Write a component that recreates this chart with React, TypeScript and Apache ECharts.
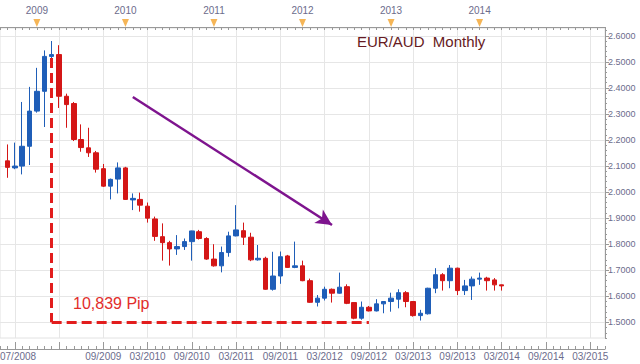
import { useEffect, useRef } from "react";
import * as echarts from "echarts";

// Monthly categories (x axis)
const months = [
  "07/2008", "08/2008", "09/2008", "10/2008", "11/2008", "12/2008",
  "01/2009", "02/2009", "03/2009", "04/2009", "05/2009", "06/2009", "07/2009", "08/2009", "09/2009", "10/2009", "11/2009", "12/2009",
  "01/2010", "02/2010", "03/2010", "04/2010", "05/2010", "06/2010", "07/2010", "08/2010", "09/2010", "10/2010", "11/2010", "12/2010",
  "01/2011", "02/2011", "03/2011", "04/2011", "05/2011", "06/2011", "07/2011", "08/2011", "09/2011", "10/2011", "11/2011", "12/2011",
  "01/2012", "02/2012", "03/2012", "04/2012", "05/2012", "06/2012", "07/2012", "08/2012", "09/2012", "10/2012", "11/2012", "12/2012",
  "01/2013", "02/2013", "03/2013", "04/2013", "05/2013", "06/2013", "07/2013", "08/2013", "09/2013", "10/2013", "11/2013", "12/2013",
  "01/2014", "02/2014", "03/2014", "04/2014", "05/2014", "06/2014", "07/2014", "08/2014", "09/2014", "10/2014", "11/2014", "12/2014",
  "01/2015", "02/2015", "03/2015", "04/2015", "05/2015",
];

const firstCandleMonth = "08/2008";

// EUR/AUD monthly OHLC, 08/2008 .. 03/2014
const opens = [
  2.120, 2.093, 2.100, 2.176, 2.311, 2.387, 2.521, 2.528, 2.368, 2.340, 2.202, 2.170, 2.151, 2.090,
  2.023, 2.050, 2.093, 1.970, 1.972, 1.946, 1.897, 1.829, 1.806, 1.782, 1.791, 1.810, 1.848, 1.822,
  1.743, 1.717, 1.768, 1.832, 1.852, 1.827, 1.740, 1.746, 1.627, 1.678, 1.755, 1.711, 1.717, 1.660,
  1.577, 1.593, 1.627, 1.612, 1.637, 1.576, 1.516, 1.558, 1.544, 1.571, 1.580, 1.589, 1.614, 1.580,
  1.526, 1.533, 1.631, 1.683, 1.660, 1.708, 1.622, 1.640, 1.666, 1.670, 1.663, 1.644,
];
const closes = [
  2.095, 2.100, 2.176, 2.311, 2.387, 2.521, 2.528, 2.368, 2.336, 2.202, 2.171, 2.151, 2.088, 2.023,
  2.049, 2.093, 1.972, 1.976, 1.950, 1.900, 1.830, 1.806, 1.782, 1.791, 1.810, 1.851, 1.822, 1.743,
  1.717, 1.768, 1.832, 1.855, 1.827, 1.740, 1.746, 1.627, 1.678, 1.752, 1.711, 1.717, 1.660, 1.577,
  1.593, 1.627, 1.612, 1.635, 1.573, 1.516, 1.558, 1.544, 1.571, 1.580, 1.593, 1.614, 1.580, 1.526,
  1.535, 1.631, 1.683, 1.660, 1.708, 1.622, 1.640, 1.666, 1.670, 1.660, 1.644, 1.640,
];
const lows = [
  2.055, 2.088, 2.068, 2.104, 2.305, 2.250, 2.490, 2.323, 2.247, 2.196, 2.155, 2.135, 2.075, 2.020,
  1.972, 1.995, 1.970, 1.931, 1.925, 1.883, 1.813, 1.737, 1.718, 1.759, 1.778, 1.737, 1.818, 1.740,
  1.714, 1.692, 1.752, 1.830, 1.797, 1.735, 1.737, 1.625, 1.622, 1.648, 1.709, 1.708, 1.658, 1.575,
  1.561, 1.584, 1.576, 1.610, 1.570, 1.512, 1.510, 1.542, 1.542, 1.535, 1.541, 1.554, 1.558, 1.522,
  1.507, 1.530, 1.612, 1.622, 1.631, 1.605, 1.605, 1.586, 1.644, 1.622, 1.622, 1.622,
];
const highs = [
  2.183, 2.190, 2.346, 2.404, 2.477, 2.544, 2.580, 2.564, 2.378, 2.346, 2.260, 2.247, 2.158, 2.108,
  2.052, 2.114, 2.097, 1.995, 1.998, 1.960, 1.906, 1.880, 1.813, 1.835, 1.822, 1.852, 1.855, 1.827,
  1.800, 1.791, 1.848, 1.950, 1.883, 1.844, 1.797, 1.752, 1.771, 1.772, 1.759, 1.810, 1.737, 1.668,
  1.605, 1.637, 1.630, 1.691, 1.646, 1.578, 1.580, 1.563, 1.589, 1.582, 1.614, 1.627, 1.620, 1.582,
  1.548, 1.633, 1.708, 1.689, 1.720, 1.710, 1.663, 1.676, 1.691, 1.675, 1.670, 1.645,
];

// Axis ticks and labels
const gridMonths = [
  "09/2008", "03/2009", "09/2009", "03/2010", "09/2010", "03/2011", "09/2011",
  "03/2012", "09/2012", "03/2013", "09/2013", "03/2014", "09/2014", "03/2015",
];
const bottomLabelMonths = [
  "07/2008", "09/2009", "03/2010", "09/2010", "03/2011", "09/2011",
  "03/2012", "09/2012", "03/2013", "09/2013", "03/2014", "09/2014", "03/2015",
];
const topYearMonths = ["12/2008", "12/2009", "12/2010", "12/2011", "12/2012", "12/2013"];
const topYearLabels = ["2009", "2010", "2011", "2012", "2013", "2014"];
const yTicks = [1.5, 1.6, 1.7, 1.8, 1.9, 2.0, 2.1, 2.2, 2.3, 2.4, 2.5, 2.6];
const yMin = 1.44;
const yMax = 2.63;
const yMinorTicks = Array.from({ length: 60 }, (_, i) => Math.round((yMin + i * 0.02) * 100) / 100);

// Annotations
const pipStartMonth = "02/2009";
const pipEndMonth = "09/2012";
const pipTop = 2.515;
const pipBase = 1.5;
const pipText = "10,839 Pip";
const arrowStart: [string, number] = ["01/2010", 2.365];
const arrowEnd: [string, number] = ["04/2012", 1.874];
const lastPrice = 1.64048;
const lowTag = 1.46036;
const titleText = "EUR/AUD  Monthly";

const FONT = "'Liberation Sans', Arial, sans-serif";
const AXIS_TEXT = "#6c6c8c";
const AXIS_LINE = "#999999";
const GRID_LINE = "#e6e6e6";
const UP = "#1f5eb8";
const DOWN = "#d41616";

function buildOption() {
  const start = months.indexOf(firstCandleMonth);
  const candleData = months.map((_, i) => {
    const k = i - start;
    if (k >= 0 && k < opens.length) return [opens[k], closes[k], lows[k], highs[k]];
    return "-";
  });
  const isGridTick = (_: number, v: string) => gridMonths.includes(v);
  const isLabelTick = (_: number, v: string) => bottomLabelMonths.includes(v);
  const isYearTick = (_: number, v: string) => topYearMonths.includes(v);

  return {
    animation: false,
    backgroundColor: "#ffffff",
    textStyle: { fontFamily: FONT },
    title: [
      {
        text: titleText,
        left: 357,
        top: 34,
        padding: 0,
        textStyle: { color: "#661a22", fontSize: 15, fontWeight: "normal", fontFamily: FONT },
      },
      {
        text: pipText,
        left: 73,
        top: 295,
        padding: 0,
        textStyle: { color: "#e22d2b", fontSize: 16, fontWeight: "normal", fontFamily: FONT },
      },
    ],
    grid: [
      {
        left: 0, right: 35, top: 28, bottom: 26,
        containLabel: false, outerBoundsMode: "none",
        show: true, borderColor: "#e2e2e2", borderWidth: 1,
      },
      { left: 0, right: 35, top: 19, height: 8, containLabel: false, outerBoundsMode: "none" },
    ],
    xAxis: [
      {
        type: "category",
        gridIndex: 0,
        data: months,
        boundaryGap: false,
        position: "bottom",
        offset: 11,
        axisLine: { show: true, lineStyle: { color: AXIS_LINE } },
        axisTick: { show: true, inside: true, length: 3, interval: 0, lineStyle: { color: AXIS_LINE } },
        axisLabel: {
          interval: isLabelTick,
          alignMinLabel: "left",
          color: AXIS_TEXT,
          fontSize: 10,
          margin: 2,
          fontFamily: FONT,
        },
        splitLine: { show: true, interval: isGridTick, lineStyle: { color: GRID_LINE } },
      },
      {
        type: "category",
        gridIndex: 0,
        data: months,
        boundaryGap: false,
        position: "bottom",
        offset: 11,
        axisLine: { show: false },
        axisTick: { show: true, inside: true, length: 7, interval: isGridTick, lineStyle: { color: AXIS_LINE } },
        axisLabel: { show: false },
        splitLine: { show: false },
      },
      {
        type: "category",
        gridIndex: 1,
        data: months,
        boundaryGap: false,
        position: "top",
        axisLine: { show: true, lineStyle: { color: AXIS_LINE } },
        axisTick: { show: true, inside: true, length: 3, interval: 0, lineStyle: { color: AXIS_LINE } },
        axisLabel: {
          interval: isYearTick,
          formatter: (v: string) => topYearLabels[topYearMonths.indexOf(v)] ?? "",
          color: AXIS_TEXT,
          fontSize: 10,
          margin: 4,
          fontFamily: FONT,
        },
        splitLine: { show: false },
      },
    ],
    yAxis: [
      {
        type: "value",
        gridIndex: 0,
        position: "right",
        min: yMin,
        max: yMax,
        axisLine: { show: true, lineStyle: { color: AXIS_LINE } },
        axisTick: { show: true, length: 4, customValues: yTicks, lineStyle: { color: AXIS_LINE } },
        axisLabel: {
          customValues: yTicks,
          formatter: (v: number) => v.toFixed(4),
          color: AXIS_TEXT,
          fontSize: 9,
          margin: 3,
          fontFamily: FONT,
        },
        splitLine: { show: true, lineStyle: { color: GRID_LINE } },
      },
      {
        type: "value",
        gridIndex: 0,
        position: "right",
        offset: 0,
        min: yMin,
        max: yMax,
        axisLine: { show: false },
        axisTick: { show: true, length: 2, customValues: yMinorTicks, lineStyle: { color: AXIS_LINE } },
        axisLabel: { show: false },
        splitLine: { show: false },
      },
      { type: "value", gridIndex: 1, min: 0, max: 1, show: false },
    ],
    series: [
      {
        type: "candlestick",
        xAxisIndex: 0,
        yAxisIndex: 0,
        data: candleData,
        barWidth: 5,
        itemStyle: { color: UP, color0: DOWN, borderColor: UP, borderColor0: DOWN, borderWidth: 1 },
        markLine: {
          silent: true,
          animation: false,
          symbol: ["none", "none"],
          label: { show: false },
          data: [
            [
              { coord: [pipStartMonth, pipTop], lineStyle: { color: "#e21d1d", width: 3, type: [10, 5] } },
              { coord: [pipStartMonth, pipBase] },
            ],
            [
              { coord: [pipStartMonth, pipBase], lineStyle: { color: "#e21d1d", width: 3, type: [10, 5] } },
              { coord: [pipEndMonth, pipBase] },
            ],
            [
              { coord: arrowStart, symbol: "none", lineStyle: { color: "#7e148e", width: 2.5, type: "solid" } },
              { coord: arrowEnd, symbol: "arrow", symbolSize: [12, 16] },
            ],
            {
              yAxis: lastPrice,
              lineStyle: { opacity: 0 },
              label: {
                show: true,
                position: "end",
                distance: 1,
                formatter: lastPrice.toFixed(5),
                backgroundColor: "#58c6ef",
                color: "#1d4f8a",
                fontSize: 9,
                padding: [2, 3, 1, 1],
                fontFamily: FONT,
              },
            },
            {
              yAxis: lowTag,
              lineStyle: { opacity: 0 },
              label: {
                show: true,
                position: "end",
                distance: 1,
                formatter: lowTag.toFixed(5),
                backgroundColor: "#f5a623",
                color: "#8a4200",
                fontSize: 9,
                padding: [2, 3, 1, 1],
                fontFamily: FONT,
              },
            },
          ],
        },
      },
      {
        type: "scatter",
        xAxisIndex: 2,
        yAxisIndex: 2,
        symbol: "triangle",
        symbolRotate: 180,
        symbolSize: [7, 8],
        itemStyle: { color: "#f2a22c" },
        silent: true,
        data: topYearMonths.map((m) => [m, 0.5]),
      },
    ],
  };
}

export default function App() {
  const ref = useRef<HTMLDivElement>(null);
  useEffect(() => {
    document.body.style.margin = "0";
    const chart = echarts.init(ref.current!, null, { renderer: "svg" });
    chart.setOption(buildOption() as any);
    return () => chart.dispose();
  }, []);
  return <div ref={ref} style={{ width: 640, height: 364 }} />;
}
